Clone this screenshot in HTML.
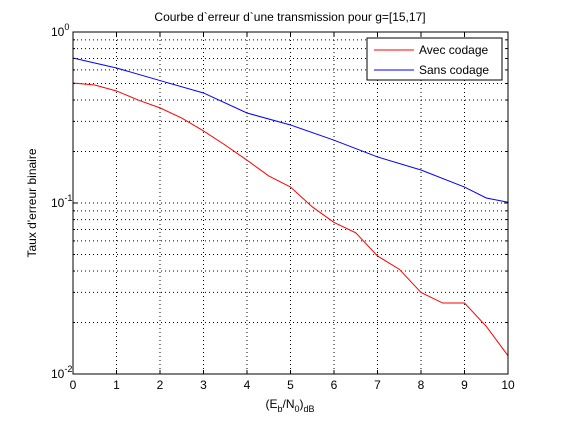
<!DOCTYPE html>
<html><head><meta charset="utf-8"><style>
body{margin:0;background:#fff;}
svg text{font-family:"Liberation Sans",sans-serif;font-size:12px;fill:#000;}
</style></head><body>
<svg id="chart" width="561" height="420" xmlns="http://www.w3.org/2000/svg">
<rect width="561" height="420" fill="#fff"/>
<g id="grid"></g>
<g id="series"></g>
<rect x="73" y="32" width="435" height="342" fill="none" stroke="#000" stroke-width="1"/>
<g id="ticks"></g>
<text x="290" y="21" text-anchor="middle">Courbe d`erreur d`une transmission pour g=[15,17]</text>
<text x="290" y="408" text-anchor="middle">(E<tspan dy="4" font-size="9">b</tspan><tspan dy="-4">/N</tspan><tspan dy="4" font-size="9">0</tspan><tspan dy="-4">)</tspan><tspan dy="4" font-size="9">dB</tspan></text>
<text x="0" y="0" transform="translate(36,203) rotate(-90)" text-anchor="middle">Taux d'erreur binaire</text>
<g>
<rect x="367" y="38" width="135" height="42" fill="#fff" stroke="#000"/>
<g><line x1="374" y1="50" x2="414" y2="50" stroke="#f00"/><text x="419" y="54">Avec codage</text></g>
<g><line x1="374" y1="70" x2="414" y2="70" stroke="#00f"/><text x="419" y="74">Sans codage</text></g>
</g>
</svg>
<script>
const xTicks=[0,1,2,3,4,5,6,7,8,9,10];
const yDecades=[0,-1,-2];
const redX=[0,0.5,1,1.5,2,2.5,3,3.5,4,4.5,5,5.5,6,6.5,7,7.5,8,8.5,9,9.5,10];
const redY=[0.503,0.49,0.452,0.40,0.36,0.314,0.264,0.218,0.178,0.144,0.124,0.095,0.077,0.067,0.049,0.041,0.030,0.026,0.026,0.019,0.0128];
const blueX=[0,1,2,3,4,5,6,7,8,9,9.5,10];
const blueY=[0.705,0.616,0.52,0.44,0.336,0.286,0.233,0.186,0.156,0.124,0.107,0.101];
const NS="http://www.w3.org/2000/svg";
const L=73,R=508,T=32,B=374;
const xs=v=>L+(v-0)/(10-0)*(R-L);
const ys=v=>T+(0-Math.log10(v))/2*(B-T);
function mk(tag,attrs,parent){const e=document.createElementNS(NS,tag);for(const k in attrs)e.setAttribute(k,attrs[k]);parent.appendChild(e);return e;}
const grid=document.getElementById('grid'),ticks=document.getElementById('ticks'),ser=document.getElementById('series');
xTicks.forEach(t=>{const x=xs(t);
 if(t>0&&t<10){const g=mk('line',{x1:x,x2:x,y1:T,y2:B,stroke:'#000','stroke-dasharray':'1,3'},grid);
 
 }
 mk('line',{x1:x,x2:x,y1:B,y2:B-4,stroke:'#000'},ticks);
 mk('line',{x1:x,x2:x,y1:T,y2:T+4,stroke:'#000'},ticks);
 const tx=mk('text',{x:x,y:B+15,'text-anchor':'middle'},ticks);tx.textContent=t;
 
 
});
for(let d=-2;d<0;d++){for(let m=1;m<10;m++){const v=m*Math.pow(10,d);const y=ys(v);
 if(!(m===1&&d===-2)){const g=mk('line',{x1:L,x2:R,y1:y,y2:y,stroke:'#000','stroke-dasharray':'1,3'},grid);
 
 }
 const len=m===1?4:2;
 mk('line',{x1:L,x2:L+len,y1:y,y2:y,stroke:'#000'},ticks);
 mk('line',{x1:R,x2:R-len,y1:y,y2:y,stroke:'#000'},ticks);
}}
yDecades.forEach(d=>{const y=ys(Math.pow(10,d));
 const tx=mk('text',{x:L-22,y:y+4},ticks);
 tx.innerHTML='10<tspan dy="-6" font-size="9">'+d+'</tspan>';
 
 
});
function line(X,Y,c,name){const p=mk('polyline',{points:X.map((x,i)=>xs(x)+','+ys(Y[i])).join(' '),fill:'none',stroke:c,'stroke-width':1},ser);
 
 }
line(blueX,blueY,'#00f','line-sans-codage');
line(redX,redY,'#f00','line-avec-codage');
</script>
</body></html>
